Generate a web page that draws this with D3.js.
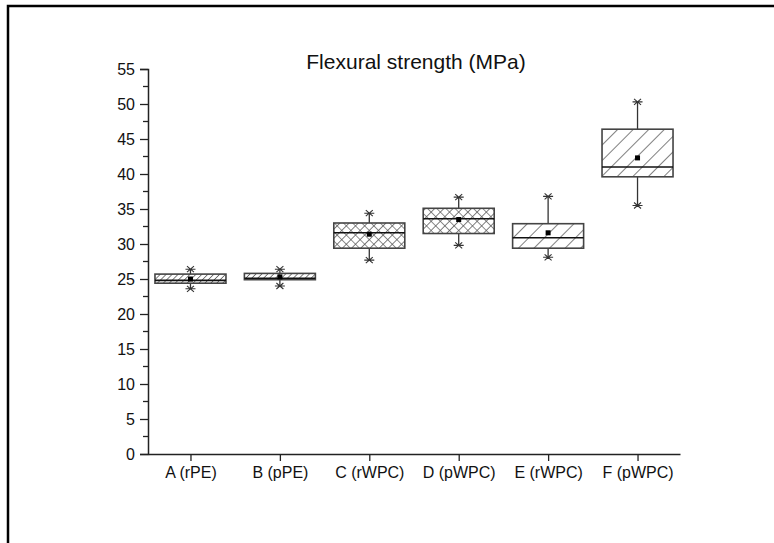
<!DOCTYPE html>
<html>
<head>
<meta charset="utf-8">
<script src="https://cdn.jsdelivr.net/npm/d3@7"></script>
<style>
  body { margin: 0; background: #fff; }
  text { font-family: "Liberation Sans", Arial, sans-serif; fill: #111; }
</style>
</head>
<body>
<div id="chart"></div>
<script>
// box plot values
const categories = ['A (rPE)', 'B (pPE)', 'C (rWPC)', 'D (pWPC)', 'E (rWPC)', 'F (pWPC)'];
const whiskerLow  = [23.6, 24.0, 27.7, 29.8, 28.1, 35.5];
const q1          = [24.4, 24.9, 29.4, 31.5, 29.4, 39.6];
const median      = [24.8, 25.1, 31.6, 33.6, 30.9, 41.0];
const q3          = [25.7, 25.8, 33.0, 35.1, 32.9, 46.4];
const whiskerHigh = [26.4, 26.4, 34.4, 36.7, 36.8, 50.3];
const means       = [25.0, 25.3, 31.4, 33.5, 31.6, 42.3];
const yTicks = [0, 5, 10, 15, 20, 25, 30, 35, 40, 45, 50, 55];

// fill pattern per box
const fills = ['hatchDense', 'hatchDense', 'cross', 'cross', 'hatchWide', 'hatchWide'];

const width = 774, height = 543;
const svg = d3.select('#chart').append('svg')
  .attr('width', width)
  .attr('height', height);

const defs = svg.append('defs');

function hatch(id, gap, crossed) {
  const p = defs.append('pattern')
    .attr('id', id)
    .attr('patternUnits', 'userSpaceOnUse')
    .attr('width', gap)
    .attr('height', gap)
    .attr('patternTransform', 'rotate(45)');
  p.append('rect').attr('width', gap).attr('height', gap).attr('fill', '#fff');
  p.append('line')
    .attr('x1', 0).attr('y1', 0).attr('x2', 0).attr('y2', gap)
    .attr('stroke', '#555').attr('stroke-width', 1.5);
  if (crossed) {
    p.append('line')
      .attr('x1', 0).attr('y1', 0).attr('x2', gap).attr('y2', 0)
      .attr('stroke', '#555').attr('stroke-width', 1.3);
  }
}
hatch('hatchDense', 4.2, false);
hatch('hatchWide', 11, false);
hatch('cross', 6.5, true);

// outer frame (left and top edges only visible)
svg.append('path')
  .attr('d', 'M8,' + height + 'V6H' + width)
  .attr('fill', 'none')
  .attr('stroke', '#000')
  .attr('stroke-width', 2.5);

const x = d3.scalePoint()
  .domain(categories)
  .range([148, 680])
  .padding(0.475);

const y = d3.scaleLinear()
  .domain([0, 55])
  .range([454, 69]);

const boxW = 71;

// y axis
const yAxis = svg.append('g')
  .attr('transform', 'translate(148,0)')
  .call(d3.axisLeft(y).tickValues(yTicks).tickSize(8).tickPadding(5).tickFormat(d3.format('d')));
yAxis.select('.domain').attr('stroke', '#222').attr('stroke-width', 1.5);
yAxis.selectAll('.tick line').attr('stroke', '#222').attr('stroke-width', 1.3);
yAxis.selectAll('text').attr('font-size', 16).style('font-family', '"Liberation Sans", Arial, sans-serif');

// minor y ticks
svg.append('g')
  .selectAll('line')
  .data(d3.range(2.5, 55, 5))
  .join('line')
  .attr('x1', 143).attr('x2', 148)
  .attr('y1', d => y(d)).attr('y2', d => y(d))
  .attr('stroke', '#222').attr('stroke-width', 1.3);

// x axis
const xAxis = svg.append('g')
  .attr('transform', 'translate(0,454)')
  .call(d3.axisBottom(x).tickSize(7).tickPadding(6).tickSizeOuter(0));
xAxis.select('.domain').attr('stroke', '#222').attr('stroke-width', 1.5);
xAxis.selectAll('.tick line').attr('stroke', '#222').attr('stroke-width', 1.3);
xAxis.selectAll('text').attr('font-size', 16).style('font-family', '"Liberation Sans", Arial, sans-serif');

// boxes
const boxes = svg.append('g')
  .selectAll('g')
  .data(categories.map((c, i) => ({
    c, lo: whiskerLow[i], q1: q1[i], med: median[i], q3: q3[i], hi: whiskerHigh[i], mean: means[i], fill: fills[i]
  })))
  .join('g')
  .attr('transform', d => 'translate(' + x(d.c) + ',0)');

boxes.append('line')
  .attr('y1', d => y(d.hi)).attr('y2', d => y(d.q3))
  .attr('stroke', '#333').attr('stroke-width', 1.3);
boxes.append('line')
  .attr('y1', d => y(d.lo)).attr('y2', d => y(d.q1))
  .attr('stroke', '#333').attr('stroke-width', 1.3);

boxes.append('rect')
  .attr('x', -boxW / 2)
  .attr('width', boxW)
  .attr('y', d => y(d.q3))
  .attr('height', d => y(d.q1) - y(d.q3))
  .attr('fill', d => 'url(#' + d.fill + ')')
  .attr('stroke', '#444')
  .attr('stroke-width', 1.6);

boxes.append('line')
  .attr('x1', -boxW / 2).attr('x2', boxW / 2)
  .attr('y1', d => y(d.med)).attr('y2', d => y(d.med))
  .attr('stroke', '#111').attr('stroke-width', 1.6);

// whisker caps drawn as small asterisks
function cap(sel, key) {
  sel.append('path')
    .attr('d', d => {
      const cy = y(d[key]);
      return 'M-5,' + cy + 'H5' +
        'M-3.5,' + (cy - 3) + 'L3.5,' + (cy + 3) +
        'M-3.5,' + (cy + 3) + 'L3.5,' + (cy - 3);
    })
    .attr('stroke', '#333')
    .attr('stroke-width', 1.1)
    .attr('fill', 'none');
}
cap(boxes, 'hi');
cap(boxes, 'lo');

boxes.append('rect')
  .attr('x', -2.5).attr('width', 5)
  .attr('y', d => y(d.mean) - 2.5).attr('height', 5)
  .attr('fill', '#000');

// title
svg.append('text')
  .attr('x', 416)
  .attr('y', 69)
  .attr('text-anchor', 'middle')
  .attr('font-size', 21)
  .text('Flexural strength (MPa)');
</script>
</body>
</html>
